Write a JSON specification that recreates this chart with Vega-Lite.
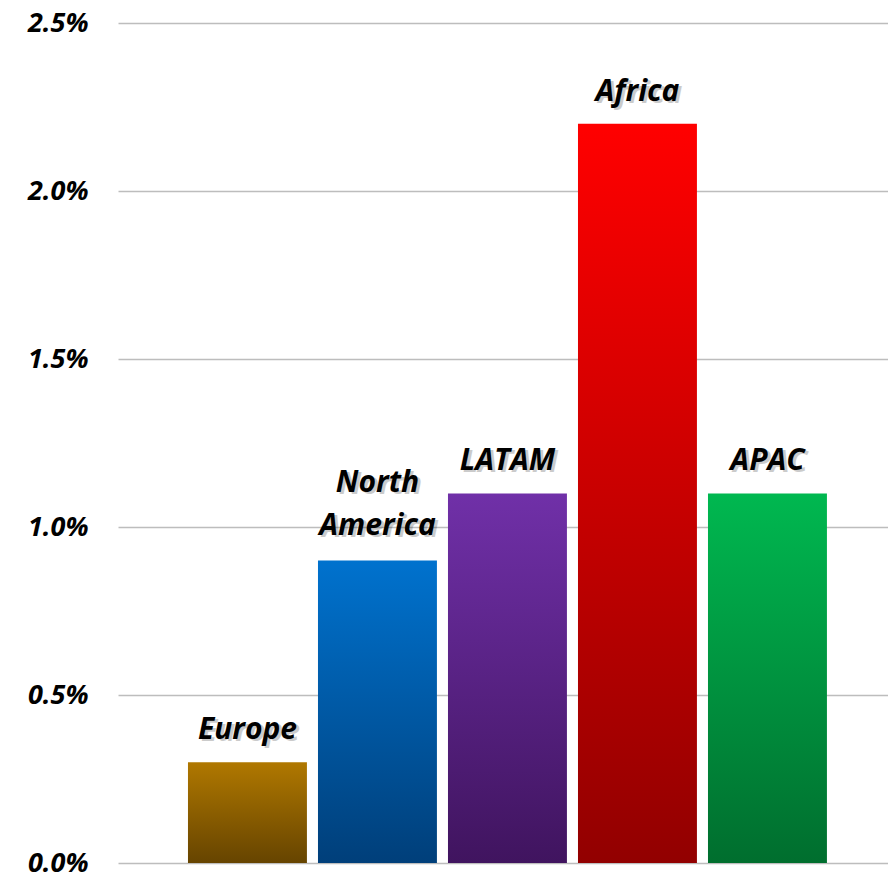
{
  "$schema": "https://vega.github.io/schema/vega-lite/v6.json",
  "width": 770,
  "height": 840,
  "autosize": {"type": "none"},
  "padding": {"left": 118, "top": 23, "right": 0, "bottom": 14},
  "background": "white",
  "config": {"view": {"stroke": null}, "font": "Open Sans"},
  "data": {
    "values": [
      {"region": "Europe", "value": 0.003},
      {"region": "North America", "value": 0.009},
      {"region": "LATAM", "value": 0.011},
      {"region": "Africa", "value": 0.022},
      {"region": "APAC", "value": 0.011}
    ]
  },
  "encoding": {
    "x": {
      "field": "region",
      "type": "nominal",
      "sort": null,
      "axis": null,
      "scale": {"paddingInner": 0.085, "paddingOuter": 0.504, "align": 0.534}
    },
    "y": {
      "field": "value",
      "type": "quantitative",
      "scale": {"domain": [0, 0.025], "nice": false},
      "axis": {
        "values": [0, 0.005, 0.01, 0.015, 0.02, 0.025],
        "format": ".1%",
        "title": null,
        "domain": false,
        "ticks": false,
        "labelPadding": 30,
        "labelFont": "Open Sans",
        "labelFontSize": 27,
        "labelFontWeight": "bold",
        "labelFontStyle": "italic",
        "labelColor": "#000000",
        "gridColor": "#BDBDBD",
        "gridWidth": 1.5
      }
    }
  },
  "layer": [
    {
      "mark": {"type": "bar"},
      "encoding": {
        "color": {
          "condition": [
            {"test": "datum.region === 'Europe'", "value": {"gradient": "linear", "x1": 0, "y1": 0, "x2": 0, "y2": 1, "stops": [{"offset": 0, "color": "#B07800"}, {"offset": 1, "color": "#664400"}]}},
            {"test": "datum.region === 'North America'", "value": {"gradient": "linear", "x1": 0, "y1": 0, "x2": 0, "y2": 1, "stops": [{"offset": 0, "color": "#0072CE"}, {"offset": 1, "color": "#003F7A"}]}},
            {"test": "datum.region === 'LATAM'", "value": {"gradient": "linear", "x1": 0, "y1": 0, "x2": 0, "y2": 1, "stops": [{"offset": 0, "color": "#7030A8"}, {"offset": 1, "color": "#40145F"}]}},
            {"test": "datum.region === 'Africa'", "value": {"gradient": "linear", "x1": 0, "y1": 0, "x2": 0, "y2": 1, "stops": [{"offset": 0, "color": "#FF0000"}, {"offset": 1, "color": "#920000"}]}}
          ],
          "value": {"gradient": "linear", "x1": 0, "y1": 0, "x2": 0, "y2": 1, "stops": [{"offset": 0, "color": "#00B850"}, {"offset": 1, "color": "#006E2E"}]}
        }
      }
    },
    {
      "transform": [{"filter": "datum.region !== 'North America'"}],
      "layer": [
        {
          "mark": {"type": "text", "font": "Open Sans", "fontSize": 30, "fontWeight": "bold", "fontStyle": "italic", "baseline": "bottom", "dy": -15, "dx": 3, "color": "#000000", "opacity": 0.2},
          "encoding": {"text": {"field": "region"}}
        },
        {
          "mark": {"type": "text", "font": "Open Sans", "fontSize": 30, "fontWeight": "bold", "fontStyle": "italic", "baseline": "bottom", "dy": -17, "color": "#000000"},
          "encoding": {"text": {"field": "region"}}
        }
      ]
    },
    {
      "transform": [{"filter": "datum.region === 'North America'"}],
      "layer": [
        {
          "mark": {"type": "text", "font": "Open Sans", "fontSize": 30, "fontWeight": "bold", "fontStyle": "italic", "baseline": "bottom", "dy": -61, "dx": 3, "lineBreak": " ", "lineHeight": 43, "color": "#000000", "opacity": 0.2},
          "encoding": {"text": {"field": "region"}}
        },
        {
          "mark": {"type": "text", "font": "Open Sans", "fontSize": 30, "fontWeight": "bold", "fontStyle": "italic", "baseline": "bottom", "dy": -63, "lineBreak": " ", "lineHeight": 43, "color": "#000000"},
          "encoding": {"text": {"field": "region"}}
        }
      ]
    }
  ]
}
